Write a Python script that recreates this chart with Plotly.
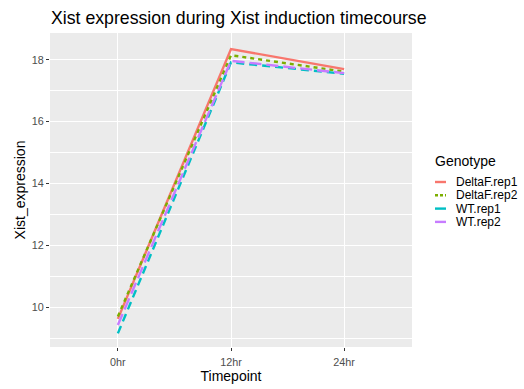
import plotly.graph_objects as go

timepoints = ["0hr", "12hr", "24hr"]
genotypes = ["DeltaF.rep1", "DeltaF.rep2", "WT.rep1", "WT.rep2"]
deltaf_rep1 = [9.62, 18.35, 17.70]
deltaf_rep2 = [9.70, 18.15, 17.62]
wt_rep1 = [9.15, 17.92, 17.55]
wt_rep2 = [9.42, 17.97, 17.57]
series = [deltaf_rep1, deltaf_rep2, wt_rep1, wt_rep2]
colors = ["#F8766D", "#7CAE00", "#00BFC4", "#C77CFF"]
dashes = ["solid", "4px,4px", "8px,5px", "12px,5px"]
key_dashes = ["solid", "3px,2px", "solid", "solid"]

W, H = 524, 389
L, R, T, B = 50, 412, 33, 347

def px(x):
    return (x - L) / (R - L)

def py(y):
    return (B - y) / (B - T)

fig = go.Figure()
xs = list(range(len(timepoints)))
for name, vals, c, d in zip(genotypes, series, colors, dashes):
    fig.add_trace(go.Scatter(x=xs, y=vals, mode="lines", name=name,
                             line=dict(color=c, width=2.4, dash=d),
                             showlegend=False))

fig.update_layout(
    width=W, height=H,
    margin=dict(l=L, r=W - R, t=T, b=H - B),
    paper_bgcolor="white", plot_bgcolor="#EBEBEB",
    font=dict(family="Liberation Sans, Arial, sans-serif", color="black"),
    title=dict(text="Xist expression during Xist induction timecourse",
               x=51 / W, xref="container", xanchor="left",
               y=1 - 18 / H, yref="container", yanchor="middle",
               font=dict(size=17.7), automargin=False),
    showlegend=False,
)
fig.update_xaxes(range=[-0.6, 2.6], tickvals=xs, ticktext=timepoints,
                 automargin=False,
                 showgrid=True, gridcolor="white", gridwidth=1.1, zeroline=False,
                 ticks="outside", ticklen=3, tickcolor="#333333",
                 ticklabelstandoff=2,
                 tickfont=dict(size=10.8, color="#4D4D4D"),
                 title=dict(text="Timepoint", font=dict(size=14), standoff=2))
fig.update_yaxes(range=[8.71, 18.87], tickvals=[10, 12, 14, 16, 18],
                 automargin=False,
                 showgrid=True, gridcolor="white", gridwidth=1.1, zeroline=False,
                 minor=dict(tickvals=[9, 11, 13, 15, 17], showgrid=True,
                            gridcolor="white", gridwidth=0.5),
                 ticks="outside", ticklen=3, tickcolor="#333333",
                 tickfont=dict(size=10.8, color="#4D4D4D"),
                 title=dict(text="Xist_expression", font=dict(size=14), standoff=2))

# legend (manual, ggplot-like compact)
fig.add_annotation(text="Genotype", xref="paper", yref="paper",
                   x=px(433), y=py(161), xanchor="left", yanchor="middle",
                   showarrow=False, font=dict(size=14))
for i, (name, c, kd) in enumerate(zip(genotypes, colors, key_dashes)):
    yy = 182 + i * 13.3
    fig.add_shape(type="line", xref="paper", yref="paper",
                  x0=px(435), x1=px(446), y0=py(yy), y1=py(yy),
                  line=dict(color=c, width=2.4, dash=kd))
    fig.add_annotation(text=name, xref="paper", yref="paper",
                       x=px(454), y=py(yy), xanchor="left", yanchor="middle",
                       showarrow=False, font=dict(size=12))

fig.write_html("out.html")
